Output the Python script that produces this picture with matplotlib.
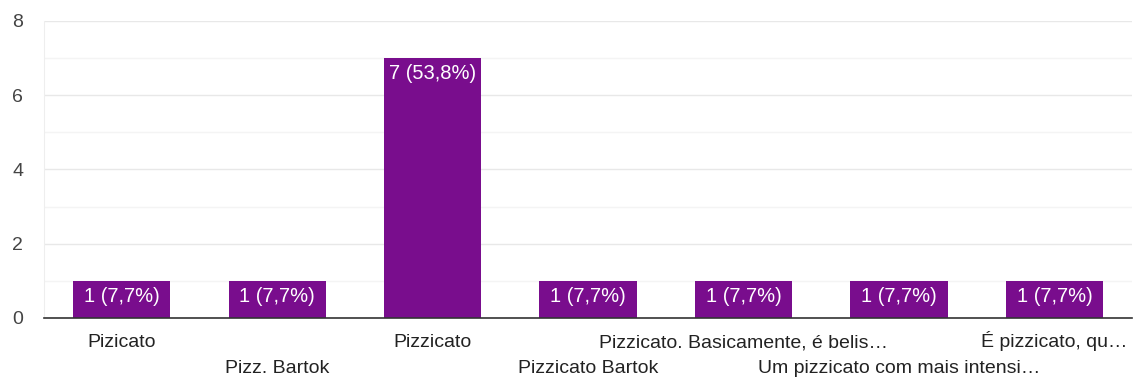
import matplotlib.pyplot as plt
from matplotlib.ticker import MultipleLocator

# Respostas e contagens
categorias = ["Pizicato", "Pizz. Bartok", "Pizzicato", "Pizzicato Bartok",
              "Pizzicato. Basicamente, é belis…", "Um pizzicato com mais intensi…",
              "É pizzicato, qu…"]
contagens = [1, 1, 7, 1, 1, 1, 1]
rotulos = ["1 (7,7%)", "1 (7,7%)", "7 (53,8%)", "1 (7,7%)", "1 (7,7%)", "1 (7,7%)", "1 (7,7%)"]

plt.rcParams['font.family'] = ['Liberation Sans', 'DejaVu Sans']

fig = plt.figure(figsize=(11.37, 3.79), dpi=100)
ax = fig.add_axes([0.0387, 0.161, 0.957, 0.7836])

x = list(range(len(categorias)))
barras = ax.bar(x, contagens, width=0.625, color='#790d8d', zorder=3)

# rótulos dentro das barras
for xi, v, r in zip(x, contagens, rotulos):
    ax.annotate(r, (xi, v), xytext=(0, -4.5), textcoords='offset points',
                ha='center', va='top', color='white', fontsize=14.5, zorder=4)

ax.set_xlim(-0.5, len(categorias) - 0.5)
ax.set_ylim(0, 8)
ax.yaxis.set_major_locator(MultipleLocator(2))
ax.yaxis.set_minor_locator(MultipleLocator(1))
ax.grid(axis='y', which='major', color='#e8e8e8', linewidth=1, zorder=0)
ax.grid(axis='y', which='minor', color='#f4f4f4', linewidth=1, zorder=0)

for s in ['top', 'right']:
    ax.spines[s].set_visible(False)
ax.spines['left'].set_color('#eeeeee')
ax.spines['bottom'].set_color('#333333')
ax.spines['bottom'].set_linewidth(1.2)
ax.spines['bottom'].set_zorder(5)

ax.set_xticks(x)
ax.set_xticklabels(categorias, fontsize=14, color='#222222', va='baseline')
ax.tick_params(axis='x', length=0)
ax.tick_params(axis='y', which='both', length=0, labelsize=14, labelcolor='#444444', pad=15)
for i, t in enumerate(ax.xaxis.get_major_ticks()):
    t.set_pad(21 if i % 2 == 0 else 39.5)

fig.savefig('out.png', dpi=100)
